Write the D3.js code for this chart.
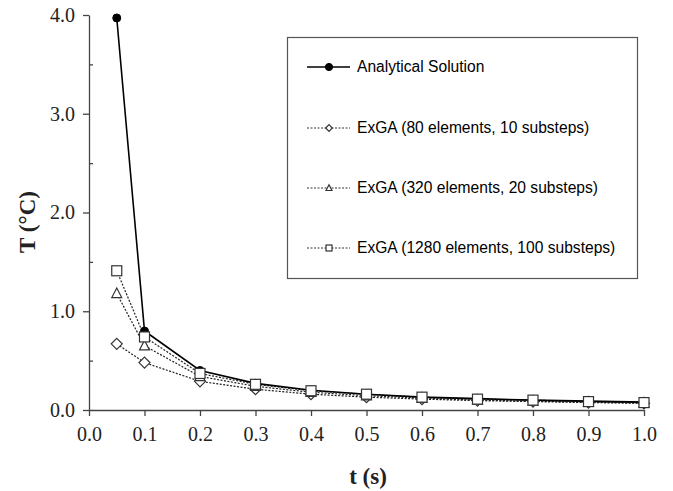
<!DOCTYPE html>
<html><head><meta charset="utf-8">
<script src="https://cdn.jsdelivr.net/npm/d3@7"></script>
<style>body{margin:0;background:#fff}</style>
</head><body>
<svg id="c" width="673" height="491"></svg>
<script>
const times = [0.05, 0.1, 0.2, 0.3, 0.4, 0.5, 0.6, 0.7, 0.8, 0.9, 1.0];
const analytical = [3.97, 0.80, 0.40, 0.27, 0.20, 0.16, 0.13, 0.115, 0.10, 0.09, 0.08];
const exga80 = [0.67, 0.48, 0.29, 0.21, 0.16, 0.13, 0.11, 0.095, 0.085, 0.075, 0.068];
const exga320 = [1.18, 0.65, 0.34, 0.24, 0.18, 0.145, 0.12, 0.10, 0.09, 0.08, 0.07];
const exga1280 = [1.41, 0.74, 0.37, 0.26, 0.195, 0.16, 0.13, 0.11, 0.10, 0.085, 0.075];
const seriesNames = ["Analytical Solution", "ExGA (80 elements, 10 substeps)", "ExGA (320 elements, 20 substeps)", "ExGA (1280 elements, 100 substeps)"];
const xTicks = [0.0,0.1,0.2,0.3,0.4,0.5,0.6,0.7,0.8,0.9,1.0];
const yTicks = [0,1,2,3,4];
const yMinor = [0.5,1.5,2.5,3.5];

const svg = d3.select("#c");
const x = d3.scaleLinear().domain([0,1]).range([89,644]);
const y = d3.scaleLinear().domain([0,4]).range([410,15]);

const serif = "'Liberation Serif','Times New Roman',serif";
const sans = "'Liberation Sans',Arial,sans-serif";

// Axes
const xAxis = svg.append("g").attr("transform","translate(0,410)")
  .call(d3.axisBottom(x).tickValues(xTicks).tickFormat(d3.format(".1f")).tickSize(6).tickSizeOuter(0));
const yAxis = svg.append("g").attr("transform","translate(89,0)")
  .call(d3.axisLeft(y).tickValues(yTicks).tickFormat(d3.format(".1f")).tickSize(6).tickSizeOuter(0));
svg.append("g").attr("transform","translate(89,0)")
  .call(d3.axisLeft(y).tickValues(yMinor).tickFormat("").tickSize(-4).tickSizeOuter(0))
  .select(".domain").remove();
[xAxis,yAxis].forEach(g=>{
  g.selectAll("text").attr("font-family",serif).attr("font-size",20).attr("fill","#222");
  g.selectAll("line,path").attr("stroke","#444").attr("stroke-width",1.3);
});
xAxis.selectAll("text").attr("dy","1.1em");
yAxis.selectAll("text").attr("dx","-0.25em");
svg.selectAll(".tick line").attr("stroke","#444").attr("stroke-width",1.3);

svg.append("text").attr("x",368).attr("y",484).attr("text-anchor","middle")
  .attr("font-family",serif).attr("font-weight","bold").attr("font-size",23).attr("fill","#222").text("t (s)");
svg.append("text").attr("transform","translate(35,222) rotate(-90)").attr("text-anchor","middle")
  .attr("font-family",serif).attr("font-weight","bold").attr("font-size",23).attr("fill","#222").text("T (°C)");

const data = [analytical, exga80, exga320, exga1280];
const shapes = ["circle","diamond","triangle","square"];
const line = d3.line().x((d,i)=>x(times[i])).y(d=>y(d));

function marker(g, shape, cx, cy, s){
  if(shape==="circle"){
    g.append("circle").attr("cx",cx).attr("cy",cy).attr("r",4*s).attr("fill","#000").attr("stroke","#000");
  } else if(shape==="diamond"){
    const r=5.5*s;
    g.append("path").attr("d",`M${cx},${cy-r}L${cx+r},${cy}L${cx},${cy+r}L${cx-r},${cy}Z`)
      .attr("fill","#fff").attr("stroke","#333").attr("stroke-width",1.2);
  } else if(shape==="triangle"){
    const r=5.5*s;
    g.append("path").attr("d",`M${cx},${cy-r}L${cx+r*0.9},${cy+r*0.75}L${cx-r*0.9},${cy+r*0.75}Z`)
      .attr("fill","#fff").attr("stroke","#333").attr("stroke-width",1.2);
  } else {
    const r=5*s;
    g.append("rect").attr("x",cx-r).attr("y",cy-r).attr("width",2*r).attr("height",2*r)
      .attr("fill","#fff").attr("stroke","#333").attr("stroke-width",1.2);
  }
}

// draw lines: exga series dashed then analytical solid
[1,2,3,0].forEach(k=>{
  svg.append("path").datum(data[k]).attr("d",line).attr("fill","none")
    .attr("stroke", k===0?"#000":"#222").attr("stroke-width", k===0?1.6:1.2)
    .attr("stroke-dasharray", k===0?null:"2,1.5");
});
[1,2,0,3].forEach(k=>{
  const g=svg.append("g");
  data[k].forEach((v,i)=>marker(g,shapes[k],x(times[i]),y(v),1));
});

// Legend
const lg = svg.append("g");
lg.append("rect").attr("x",287.5).attr("y",37.5).attr("width",350).attr("height",241)
  .attr("fill","#fff").attr("stroke","#555").attr("stroke-width",1.2);
const ly = [67,128,188,248];
seriesNames.forEach((n,k)=>{
  lg.append("line").attr("x1",307).attr("x2",350).attr("y1",ly[k]).attr("y2",ly[k])
    .attr("stroke",k===0?"#000":"#333").attr("stroke-width",k===0?1.5:1)
    .attr("stroke-dasharray",k===0?null:"2,1.5");
  marker(lg,shapes[k],329,ly[k],k===0?0.9:0.6);
  lg.append("text").attr("x",357).attr("y",ly[k]).attr("dy","0.35em")
    .attr("font-family",sans).attr("font-size",15.6).attr("fill","#000").text(n);
});
</script>
</body></html>
